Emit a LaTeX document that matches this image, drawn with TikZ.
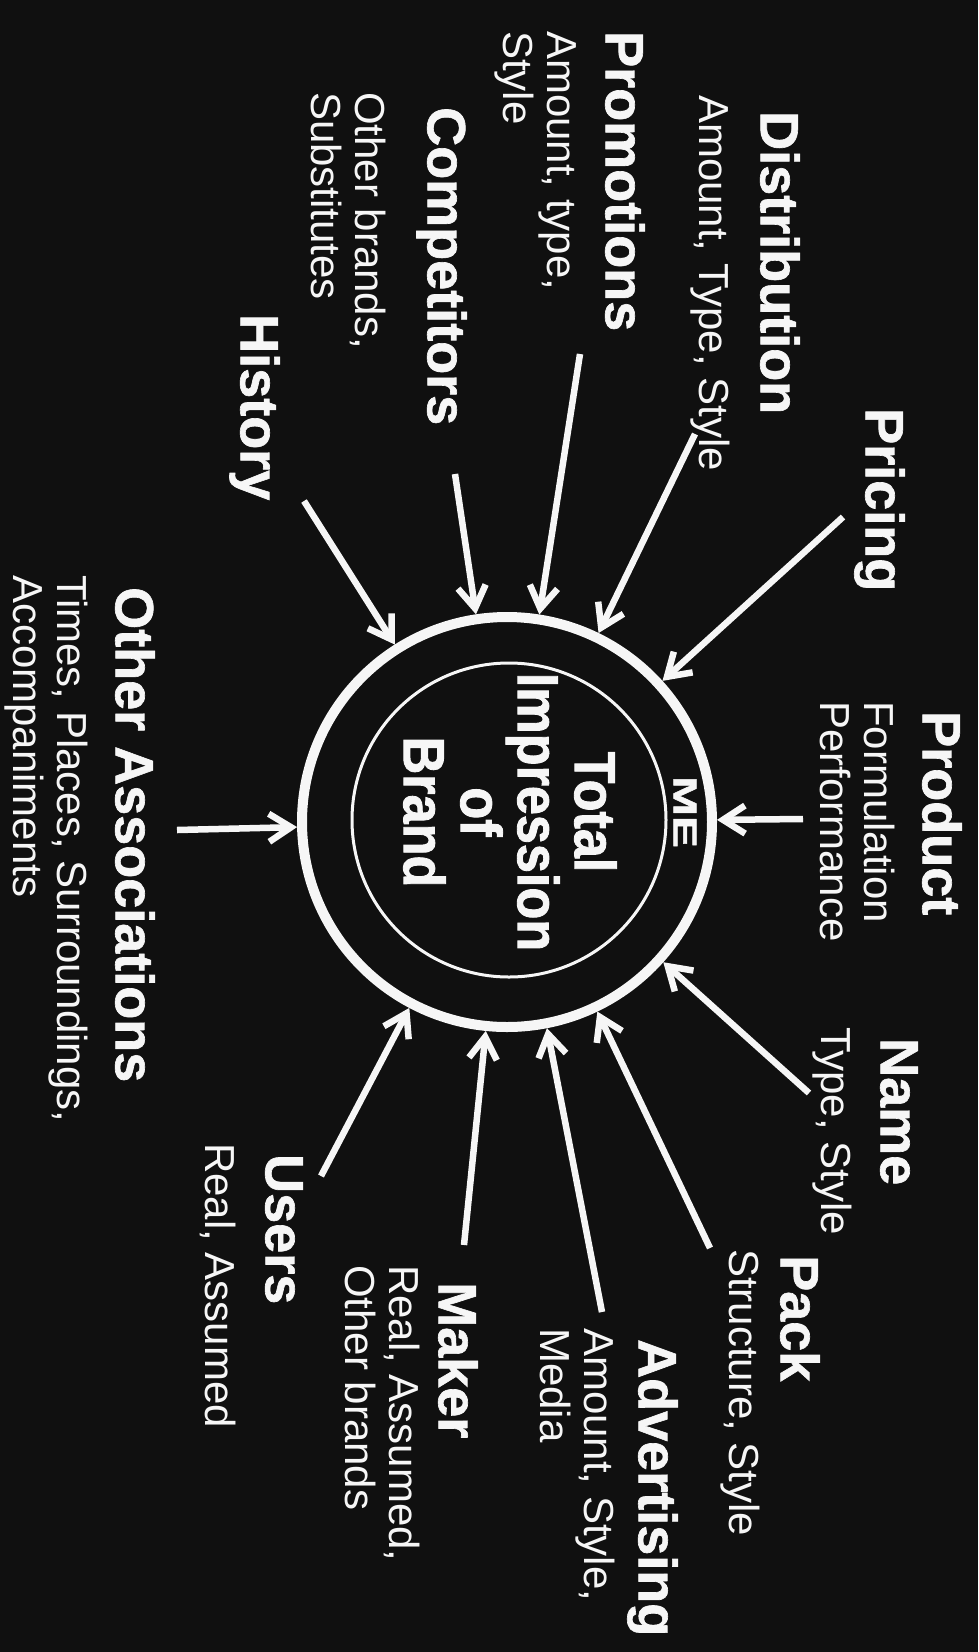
\documentclass[tikz,border=0pt]{standalone}
\usepackage{graphicx}
\usepackage{fontspec}
\setmainfont{Liberation Sans}[BoldFeatures={FakeBold=1.2}]
\newfontfamily\cfont{Liberation Sans}[FakeStretch=0.9,BoldFeatures={FakeBold=1.5}]
\usetikzlibrary{arrows.meta}
\definecolor{bg}{RGB}{16,16,16}
\definecolor{ink}{RGB}{246,246,246}
\begin{document}
\begin{tikzpicture}[x=1pt,y=-1pt,
  ttl/.style={rotate=-90,anchor=north west,inner sep=0pt,text=ink,font=\bfseries\fontsize{54}{58}\selectfont},
  sub/.style={rotate=-90,anchor=north west,inner sep=0pt,text=ink,align=left,font=\fontsize{42}{44}\selectfont},
  arr/.style={draw=ink,line width=6.5pt,-{Straight Barb[length=22pt,width=28pt,line width=6.5pt]}}]
\fill[bg] (0,0) rectangle (978,1652);
\useasboundingbox (0,0) rectangle (978,1652);

% central circles
\node[circle,draw=ink,line width=10pt,minimum size=410pt,inner sep=0pt,outer sep=5pt] (c) at (507,822) {};
\node[circle,draw=ink,line width=3pt,minimum size=314pt,inner sep=0pt] (ic) at (509,820) {};
\node[rotate=-90,text=ink,align=center,inner sep=0pt,font=\cfont\bfseries\fontsize{58}{57}\selectfont] (tib) at (510,812) {Total\\Impression\\of\\Brand};
\node[rotate=-90,text=ink,inner sep=0pt,font=\bfseries\fontsize{33}{33}\selectfont] (me) at (685,812) {\scalebox{1.45}[1]{ME}};

% labels
\node[ttl] (pricing) at (905,408) {Pricing};
\node[ttl] (distribution) at (800,111) {Distribution};
\node[sub] (distsub) at (730,95) {Amount, Type, Style};
\node[ttl] (promotions) at (645,31) {Promotions};
\node[sub] (promsub) at (577,31) {Amount, type,\\Style};
\node[ttl] (competitors) at (467,107) {Competitors};
\node[sub] (compsub) at (386,92) {Other brands,\\Substitutes};
\node[ttl] (history) at (280,314) {History};
\node[ttl] (other) at (155,587) {Other Associations};
\node[sub] (othersub) at (88,575) {Times, Places, Surroundings,\\Accompaniments};
\node[ttl] (users) at (303,1154) {Users};
\node[sub] (usersub) at (236,1143) {Real, Assumed};
\node[ttl] (maker) at (478,1282) {Maker};
\node[sub] (makersub) at (420,1265) {Real, Assumed,\\Other brands};
\node[ttl] (advertising) at (678,1339) {Advertising};
\node[sub] (advsub) at (615,1328) {Amount, Style,\\Media};
\node[ttl] (pack) at (820,1255) {Pack};
\node[sub] (packsub) at (760,1249) {Structure, Style};
\node[ttl] (name) at (918,1038) {Name};
\node[sub] (namesub) at (852,1027) {Type, Style};
\node[ttl] (product) at (962,711) {Product};
\node[sub] (prodsub) at (895,701) {Formulation\\Performance};

% arrow starts
\coordinate (s1) at (843,517);
\coordinate (s2) at (695,434);
\coordinate (s3) at (580,354);
\coordinate (s4) at (455,474);
\coordinate (s5) at (304,501);
\coordinate (s6) at (177,830);
\coordinate (s7) at (321,1176);
\coordinate (s8) at (464,1245);
\coordinate (s9) at (602,1312);
\coordinate (s10) at (710,1248);
\coordinate (s11) at (809,1093);
\coordinate (s12) at (803,819);
\foreach \i in {1,...,12} {\draw[arr] (s\i) -- (c);}
\end{tikzpicture}
\end{document}
